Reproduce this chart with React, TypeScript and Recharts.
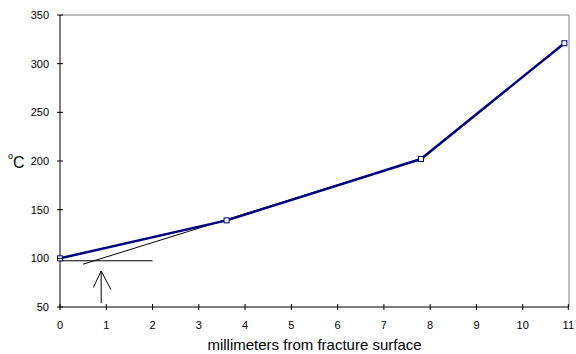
import { LineChart, Line, XAxis, YAxis, ReferenceLine } from 'recharts';

// readings along the specimen
const distanceMm = [0, 3.6, 7.8, 10.9];
const tempC = [100, 139, 202, 321];

const xTicks = [0, 1, 2, 3, 4, 5, 6, 7, 8, 9, 10, 11];
const yTicks = [50, 100, 150, 200, 250, 300, 350];

// hand-drawn annotations (data units)
const tangentLine = [
  { x: 0.5, y: 94 },
  { x: 7.8, y: 202 },
];
const baseLine = [
  { x: 0, y: 97.5 },
  { x: 2, y: 97.5 },
];
const arrowShaft = [
  { x: 0.89, y: 54 },
  { x: 0.89, y: 87 },
];
const arrowLeft = [
  { x: 0.72, y: 70 },
  { x: 0.89, y: 87 },
];
const arrowRight = [
  { x: 1.1, y: 68 },
  { x: 0.89, y: 87 },
];

const data = distanceMm.map((d, i) => ({ mm: d, temp: tempC[i] }));

const FONT = '"Liberation Sans", Arial, sans-serif';
const NAVY = '#000080';

const XTick = (props: any) => {
  const { x, y, payload } = props;
  // y is axis + tickSize + tickMargin
  const axisY = y - 14;
  return (
    <g>
      <line x1={x} x2={x} y1={axisY - 3} y2={axisY + 3} stroke="#000" />
      <text x={x} y={y} dy="0.71em" textAnchor="middle" fontSize={11} fontFamily={FONT} fill="#000">
        {payload.value}
      </text>
    </g>
  );
};

const YTick = (props: any) => {
  const { x, y, payload } = props;
  const axisX = x + 11;
  return (
    <g>
      <line x1={axisX - 3} x2={axisX + 3} y1={y} y2={y} stroke="#000" />
      <text x={x} y={y} dy="0.355em" textAnchor="end" fontSize={11} fontFamily={FONT} fill="#000">
        {payload.value}
      </text>
    </g>
  );
};

const SquareDot = (props: any) => {
  const { cx, cy } = props;
  if (cx == null || cy == null) return null;
  return <rect x={cx - 2.5} y={cy - 2.5} width={5} height={5} fill="#fff" stroke={NAVY} strokeWidth={1} />;
};

export default function App() {
  return (
    <div style={{ position: 'absolute', left: 0, top: 0, background: '#fff' }}>
      <LineChart width={576} height={354} data={data} margin={{ top: 15, right: 7, bottom: 0, left: 10 }}>
        <XAxis
          dataKey="mm"
          type="number"
          domain={[0, 11]}
          ticks={xTicks}
          height={47}
          tickLine={false}
          tickSize={3}
          tickMargin={11}
          tick={<XTick />}
          axisLine={{ stroke: '#000' }}
          label={{
            value: 'millimeters from fracture surface',
            position: 'insideBottom',
            offset: 4,
            fontSize: 15,
            fontFamily: FONT,
            fill: '#000',
          }}
        />
        <YAxis
          type="number"
          domain={[50, 350]}
          ticks={yTicks}
          width={50}
          tickLine={false}
          tickSize={3}
          tickMargin={8}
          tick={<YTick />}
          axisLine={{ stroke: '#000' }}
          label={{
            content: () => (
              <text x={8} y={168} fontFamily={FONT} fill="#000">
                <tspan fontSize={9} dy={-9}>o</tspan>
                <tspan fontSize={16} dy={9}>C</tspan>
              </text>
            ),
          }}
        />
        <ReferenceLine y={350} stroke="#808080" />
        <ReferenceLine x={11} stroke="#808080" />
        <ReferenceLine segment={tangentLine} stroke="#000" strokeWidth={1} />
        <ReferenceLine segment={baseLine} stroke="#000" strokeWidth={1} />
        <ReferenceLine segment={arrowShaft} stroke="#000" strokeWidth={1} />
        <ReferenceLine segment={arrowLeft} stroke="#000" strokeWidth={1} />
        <ReferenceLine segment={arrowRight} stroke="#000" strokeWidth={1} />
        <Line
          type="linear"
          dataKey="temp"
          stroke={NAVY}
          strokeWidth={2.5}
          dot={<SquareDot />}
          isAnimationActive={false}
        />
      </LineChart>
    </div>
  );
}
